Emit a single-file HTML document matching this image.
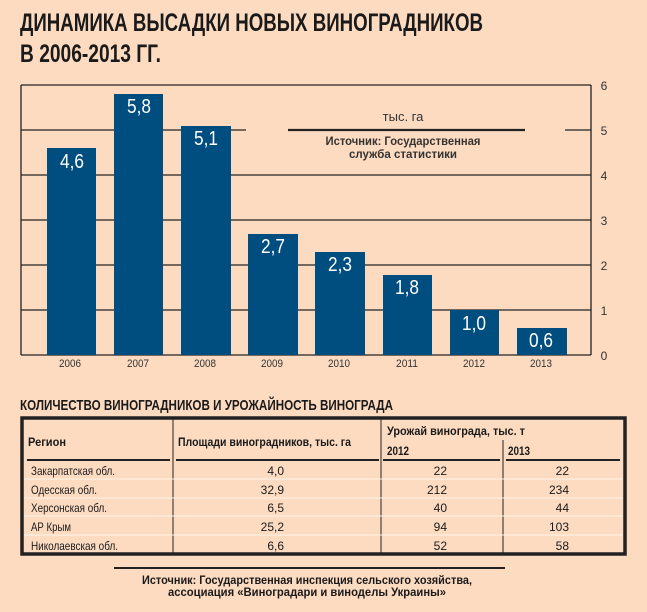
<!DOCTYPE html>
<html><head><meta charset="utf-8"><style>
html,body{margin:0;padding:0;background:#fddbc1;}
svg{display:block;font-family:"Liberation Sans",sans-serif;}
</style></head><body>
<svg width="647" height="612" viewBox="0 0 647 612" xmlns="http://www.w3.org/2000/svg">
<rect width="647" height="612" fill="#fddbc1"/>
<g fill="#1a1a1a" font-weight="bold" font-size="25">
<text x="20" y="31" textLength="463" lengthAdjust="spacingAndGlyphs">ДИНАМИКА ВЫСАДКИ НОВЫХ ВИНОГРАДНИКОВ</text>
<text x="20" y="62" textLength="141" lengthAdjust="spacingAndGlyphs">В 2006-2013 ГГ.</text>
</g>
<!-- chart frame -->
<g stroke="#222" stroke-width="1.3" fill="none">
<line x1="21" y1="85" x2="591" y2="85"/>
<line x1="21" y1="85" x2="21" y2="355"/>
<line x1="591" y1="85" x2="591" y2="355"/>
<line x1="21" y1="355" x2="591" y2="355"/>
<line x1="21" y1="130" x2="246" y2="130"/>
<line x1="565" y1="130" x2="591" y2="130"/>
<line x1="21" y1="175" x2="591" y2="175"/>
<line x1="21" y1="220" x2="591" y2="220"/>
<line x1="21" y1="265" x2="591" y2="265"/>
<line x1="21" y1="310" x2="591" y2="310"/>
</g>
<line x1="288" y1="130" x2="525" y2="130" stroke="#222" stroke-width="2.2"/>
<g fill="#333" font-size="12" text-anchor="middle">
<text x="604" y="90">6</text><text x="604" y="135">5</text><text x="604" y="180">4</text>
<text x="604" y="225">3</text><text x="604" y="270">2</text><text x="604" y="315">1</text><text x="604" y="360">0</text>
</g>
<g fill="#333" font-size="11" text-anchor="middle">
<text x="403" y="121" font-size="13">тыс. га</text>
<text x="403" y="145" font-weight="bold" font-size="11.5" textLength="155" lengthAdjust="spacingAndGlyphs">Источник: Государственная</text>
<text x="403" y="158" font-weight="bold" font-size="11.5" textLength="108" lengthAdjust="spacingAndGlyphs">служба статистики</text>
</g>
<g fill="#004d7f">
<rect x="47" y="148" width="49" height="207"/>
<rect x="114" y="94" width="49" height="261"/>
<rect x="181" y="126" width="50" height="229"/>
<rect x="248" y="234" width="50" height="121"/>
<rect x="315" y="252" width="50" height="103"/>
<rect x="383" y="275" width="49" height="80"/>
<rect x="450" y="310" width="49" height="45"/>
<rect x="517" y="328" width="50" height="27"/>
</g>
<g fill="#fff" font-size="20" text-anchor="middle">
<text x="72" y="168" textLength="24" lengthAdjust="spacingAndGlyphs">4,6</text>
<text x="139" y="113" textLength="24" lengthAdjust="spacingAndGlyphs">5,8</text>
<text x="206" y="145" textLength="24" lengthAdjust="spacingAndGlyphs">5,1</text>
<text x="273" y="253" textLength="24" lengthAdjust="spacingAndGlyphs">2,7</text>
<text x="340" y="271" textLength="24" lengthAdjust="spacingAndGlyphs">2,3</text>
<text x="407" y="294" textLength="24" lengthAdjust="spacingAndGlyphs">1,8</text>
<text x="474" y="330" textLength="24" lengthAdjust="spacingAndGlyphs">1,0</text>
<text x="541" y="347" textLength="24" lengthAdjust="spacingAndGlyphs">0,6</text>
</g>
<g fill="#333" font-size="11" text-anchor="middle">
<text x="70" y="367" textLength="22" lengthAdjust="spacingAndGlyphs">2006</text>
<text x="138" y="367" textLength="22" lengthAdjust="spacingAndGlyphs">2007</text>
<text x="205" y="367" textLength="22" lengthAdjust="spacingAndGlyphs">2008</text>
<text x="272" y="367" textLength="22" lengthAdjust="spacingAndGlyphs">2009</text>
<text x="339" y="367" textLength="22" lengthAdjust="spacingAndGlyphs">2010</text>
<text x="407" y="367" textLength="22" lengthAdjust="spacingAndGlyphs">2011</text>
<text x="474" y="367" textLength="22" lengthAdjust="spacingAndGlyphs">2012</text>
<text x="541" y="367" textLength="22" lengthAdjust="spacingAndGlyphs">2013</text>
</g>
<!-- table -->
<text x="20" y="410" font-size="15" font-weight="bold" fill="#1a1a1a" textLength="373" lengthAdjust="spacingAndGlyphs">КОЛИЧЕСТВО ВИНОГРАДНИКОВ И УРОЖАЙНОСТЬ ВИНОГРАДА</text>
<rect x="22" y="418" width="603" height="136" fill="none" stroke="#222" stroke-width="3.5"/>
<g stroke="#222" stroke-width="1">
<line x1="173" y1="418" x2="173" y2="554"/>
<line x1="381" y1="418" x2="381" y2="554"/>
<line x1="503" y1="440" x2="503" y2="554"/>
</g>
<g stroke="#222" stroke-width="2">
<line x1="27" y1="460" x2="170" y2="460"/>
<line x1="176" y1="460" x2="379" y2="460"/>
<line x1="383" y1="460" x2="500" y2="460"/>
<line x1="506" y1="460" x2="620" y2="460"/>
</g>
<g stroke="#fff3e8" stroke-width="1">
<line x1="24" y1="479" x2="623" y2="479"/>
<line x1="24" y1="498" x2="623" y2="498"/>
<line x1="24" y1="516" x2="623" y2="516"/>
<line x1="24" y1="535" x2="623" y2="535"/>
</g>
<g fill="#1a1a1a" font-size="11.5" font-weight="bold">
<text x="28" y="446" textLength="38" lengthAdjust="spacingAndGlyphs">Регион</text>
<text x="178" y="446" textLength="173" lengthAdjust="spacingAndGlyphs">Площади виноградников, тыс. га</text>
<text x="387" y="435" textLength="138" lengthAdjust="spacingAndGlyphs">Урожай винограда, тыс. т</text>
<text x="387" y="455" textLength="22" lengthAdjust="spacingAndGlyphs">2012</text>
<text x="508" y="455" textLength="22" lengthAdjust="spacingAndGlyphs">2013</text>
</g>
<g fill="#1a1a1a" font-size="12">
<text x="31" y="475" textLength="84" lengthAdjust="spacingAndGlyphs">Закарпатская обл.</text>
<text x="31" y="494" textLength="66" lengthAdjust="spacingAndGlyphs">Одесская обл.</text>
<text x="31" y="512" textLength="76" lengthAdjust="spacingAndGlyphs">Херсонская обл.</text>
<text x="31" y="531" textLength="40" lengthAdjust="spacingAndGlyphs">АР Крым</text>
<text x="31" y="550" textLength="87" lengthAdjust="spacingAndGlyphs">Николаевская обл.</text>
</g>
<g fill="#1a1a1a" font-size="12" text-anchor="end">
<text x="284" y="475">4,0</text><text x="284" y="494">32,9</text><text x="284" y="512">6,5</text><text x="284" y="531">25,2</text><text x="284" y="550">6,6</text>
<text x="447" y="475">22</text><text x="447" y="494">212</text><text x="447" y="512">40</text><text x="447" y="531">94</text><text x="447" y="550">52</text>
<text x="569" y="475">22</text><text x="569" y="494">234</text><text x="569" y="512">44</text><text x="569" y="531">103</text><text x="569" y="550">58</text>
</g>
<line x1="114" y1="568" x2="505" y2="568" stroke="#222" stroke-width="2"/>
<g fill="#1a1a1a" font-size="11.5" font-weight="bold" text-anchor="middle">
<text x="307" y="584" textLength="330" lengthAdjust="spacingAndGlyphs">Источник: Государственная инспекция сельского хозяйства,</text>
<text x="307" y="596" textLength="278" lengthAdjust="spacingAndGlyphs">ассоциация «Виноградари и виноделы Украины»</text>
</g>
</svg>
</body></html>
